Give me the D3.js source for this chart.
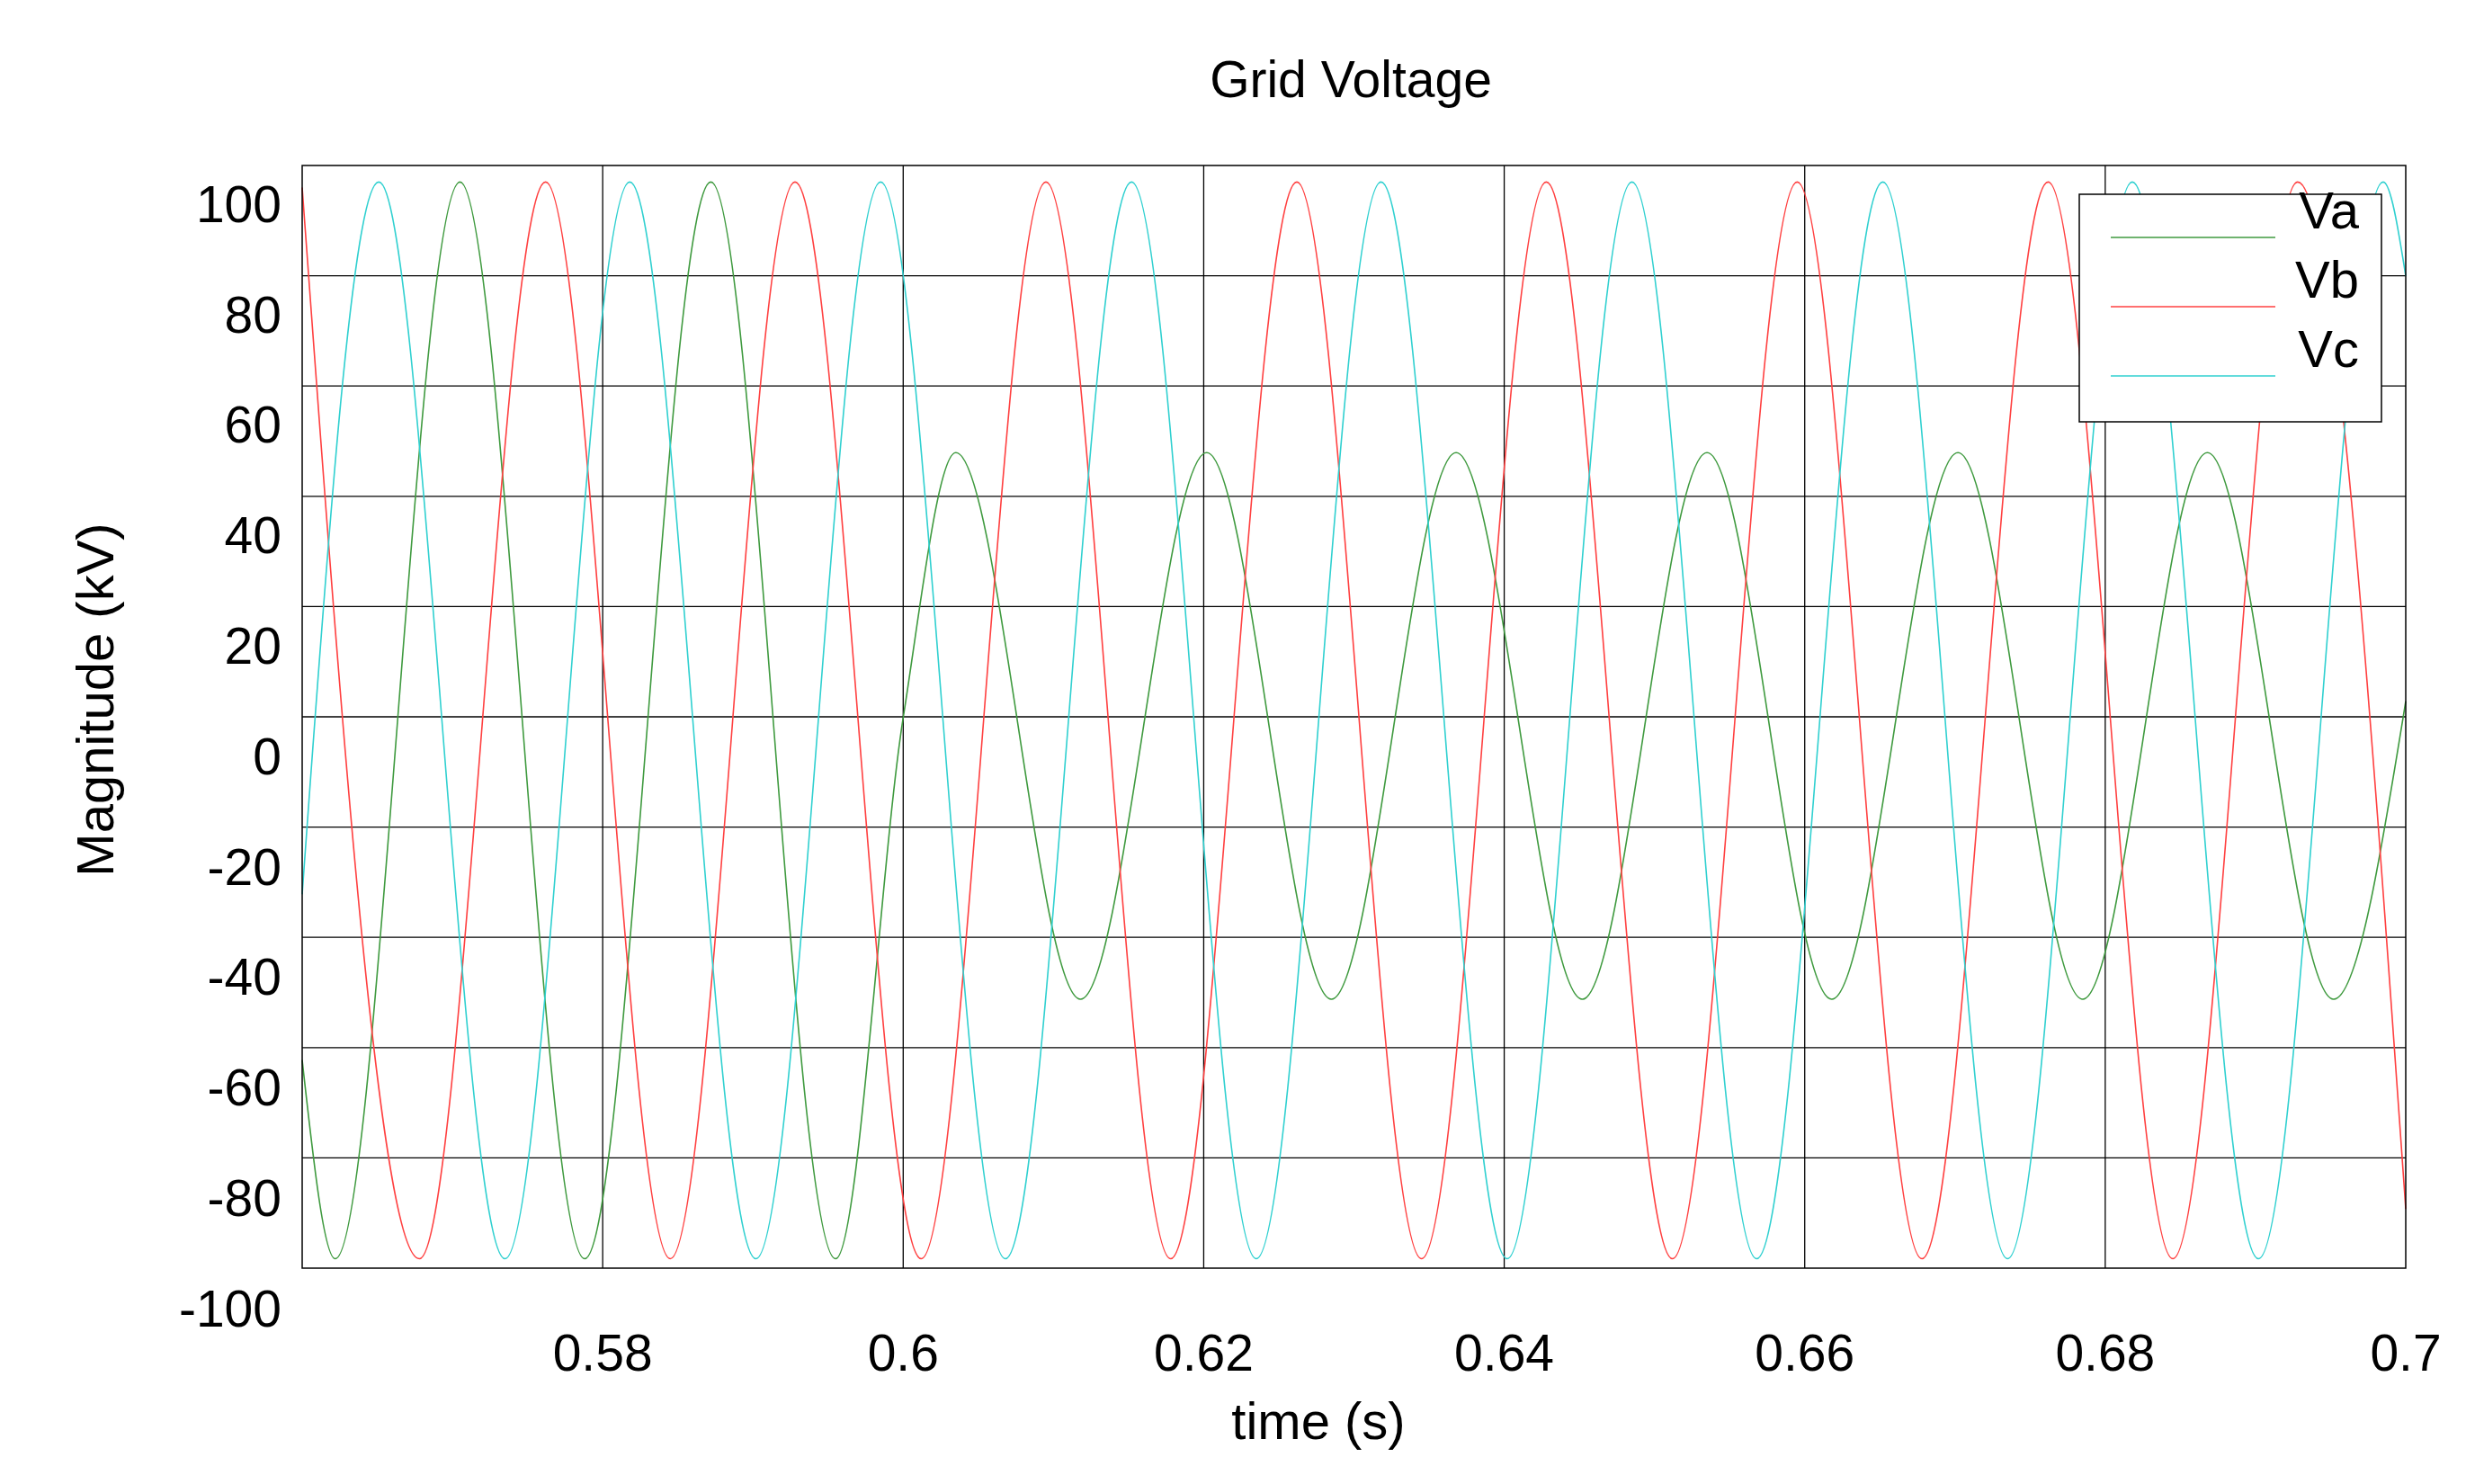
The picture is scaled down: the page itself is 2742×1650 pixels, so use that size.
<!DOCTYPE html>
<html>
<head>
<meta charset="utf-8">
<script src="https://cdn.jsdelivr.net/npm/d3@7.9.0/dist/d3.min.js"></script>
<style>
  body { margin: 0; background: #fff; }
  text { font-family: Arial, "Liberation Sans", sans-serif; fill: #000; }
</style>
</head>
<body>
<svg id="chart" width="2742" height="1650"></svg>
<script>
// extrema and edge samples: [time s, kV]
const vaPoints = [
  [0.56, -55], [0.5622, -91], [0.5705, 104], [0.5788, -91], [0.5872, 104], [0.5955, -91],
  [0.6, 7], [0.6035, 55], [0.6118, -44], [0.6202, 55], [0.6285, -44], [0.6368, 55],
  [0.6452, -44], [0.6535, 55], [0.6618, -44], [0.6702, 55], [0.6785, -44], [0.6868, 55],
  [0.6952, -44], [0.7, 10]
];
const vbPoints = [
  [0.56, 103], [0.5678, -91], [0.5762, 104], [0.5845, -91], [0.5928, 104], [0.6012, -91],
  [0.6095, 104], [0.6178, -91], [0.6262, 104], [0.6345, -91], [0.6428, 104], [0.6512, -91],
  [0.6595, 104], [0.6678, -91], [0.6762, 104], [0.6845, -91], [0.6928, 104], [0.7, -82]
];
const vcPoints = [
  [0.56, -25], [0.5651, 104], [0.5735, -91], [0.5818, 104], [0.5902, -91], [0.5985, 104],
  [0.6068, -91], [0.6152, 104], [0.6235, -91], [0.6318, 104], [0.6402, -91], [0.6485, 104],
  [0.6568, -91], [0.6652, 104], [0.6735, -91], [0.6818, 104], [0.6902, -91], [0.6985, 104],
  [0.7, 87]
];
const seriesNames = ['Va', 'Vb', 'Vc'];
const seriesColors = ['#3f9a3f', '#ff4040', '#30d0d0'];
const xTicks = [0.58, 0.6, 0.62, 0.64, 0.66, 0.68, 0.7];
const yTicks = [100, 80, 60, 40, 20, 0, -20, -40, -60, -80, -100];

const svg = d3.select('#chart');
const plotL = 336, plotR = 2675, plotT = 184, plotB = 1410;

const x = d3.scaleLinear().domain([0.56, 0.7]).range([plotL, plotR]);
const y = d3.scaleLinear().domain([-92.7, 107]).range([plotB, plotT]);

// gridlines
const grid = svg.append('g').attr('stroke', '#000').attr('stroke-width', 1.3);
d3.range(1, 10).forEach(i => {
  const py = plotT + (plotB - plotT) * i / 10;
  grid.append('line').attr('x1', plotL).attr('x2', plotR).attr('y1', py).attr('y2', py);
});
xTicks.slice(0, -1).forEach(t => {
  grid.append('line').attr('x1', x(t)).attr('x2', x(t)).attr('y1', plotT).attr('y2', plotB);
});

// series
const line = d3.line().x(d => x(d[0])).y(d => y(d[1])).curve(d3.curveMonotoneX);
[vaPoints, vbPoints, vcPoints].forEach((pts, i) => {
  svg.append('path').datum(pts).attr('d', line)
    .attr('fill', 'none').attr('stroke', seriesColors[i]).attr('stroke-width', 1.6);
});

// frame
svg.append('rect').attr('x', plotL).attr('y', plotT).attr('width', plotR - plotL).attr('height', plotB - plotT)
  .attr('fill', 'none').attr('stroke', '#000').attr('stroke-width', 1.5);

// tick labels
svg.append('g').selectAll('text').data(yTicks).join('text')
  .attr('x', 313).attr('y', d => y(d)).attr('dy', '0.35em')
  .attr('text-anchor', 'end').attr('font-size', 57).text(d => d);
svg.append('g').selectAll('text').data(xTicks).join('text')
  .attr('x', d => x(d)).attr('y', 1504).attr('dy', '0.35em')
  .attr('text-anchor', 'middle').attr('font-size', 57).text(d => d);

// titles
svg.append('text').attr('x', 1502).attr('y', 88).attr('dy', '0.35em')
  .attr('text-anchor', 'middle').attr('font-size', 57).text('Grid Voltage');
svg.append('text').attr('x', 1466).attr('y', 1580).attr('dy', '0.35em')
  .attr('text-anchor', 'middle').attr('font-size', 58).text('time (s)');
svg.append('text').attr('transform', 'translate(106,778) rotate(-90)').attr('dy', '0.35em')
  .attr('text-anchor', 'middle').attr('font-size', 58).text('Magnitude (kV)');

// legend
const lg = svg.append('g');
lg.append('rect').attr('x', 2312).attr('y', 216).attr('width', 336).attr('height', 253)
  .attr('fill', '#fff').attr('stroke', '#000').attr('stroke-width', 1.5);
seriesNames.forEach((n, i) => {
  const ly = 264 + i * 77;
  lg.append('line').attr('x1', 2347).attr('x2', 2530).attr('y1', ly).attr('y2', ly)
    .attr('stroke', seriesColors[i]).attr('stroke-width', 1.6);
  lg.append('text').attr('x', 2623).attr('y', ly - 30).attr('dy', '0.35em')
    .attr('text-anchor', 'end').attr('font-size', 58).text(n);
});
</script>
</body>
</html>
